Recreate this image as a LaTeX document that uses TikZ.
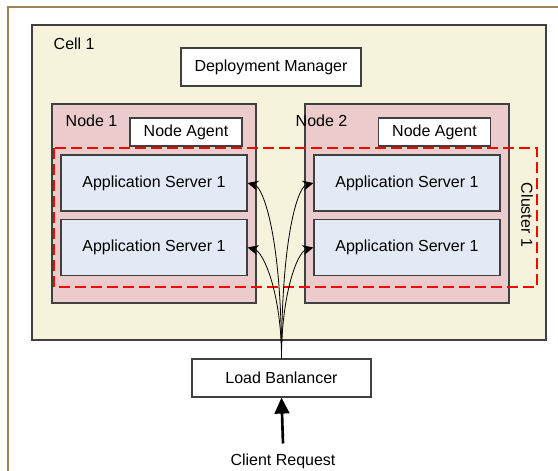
\documentclass[tikz,border=0pt]{standalone}
\usepackage{fontspec}
\setmainfont{Liberation Sans}
\usetikzlibrary{arrows.meta}
\definecolor{framebrown}{HTML}{A0825C}
\definecolor{cellfill}{HTML}{F5F3DC}
\definecolor{nodefill}{HTML}{EBCBCB}
\definecolor{appfill}{HTML}{E4EAF5}
\definecolor{edgegray}{HTML}{404040}

\begin{document}
\begin{tikzpicture}[x=0.75pt,y=-0.75pt,
    font=\fontsize{12}{14}\selectfont,
    box/.style={draw=edgegray,line width=0.9pt,rectangle,inner sep=0pt},
    appbox/.style={box,fill=appfill,minimum width=186*0.75pt,minimum height=56*0.75pt},
    agentbox/.style={box,fill=white,minimum width=112*0.75pt,minimum height=28*0.75pt},
    call/.style={-{Stealth[length=8pt,width=7.5pt]},line width=0.6pt}]
    \useasboundingbox (0,0) rectangle (558,471);
    % outer frame
    \draw[framebrown,line width=1.6pt] (8,480) -- (8,7) -- (570,7);
    % cell
    \node[box,fill=cellfill,minimum width=514*0.75pt,minimum height=315*0.75pt] (cell) at (289,182.5) {};
    \node[anchor=west] (celllabel) at (49,44) {Cell 1};
    \node[box,fill=white,minimum width=180*0.75pt,minimum height=38*0.75pt] (dm) at (271,67) {Deployment Manager};
    % nodes
    \node[box,fill=nodefill,minimum width=204*0.75pt,minimum height=199*0.75pt] (node1) at (154,203.5) {};
    \node[box,fill=nodefill,minimum width=204*0.75pt,minimum height=199*0.75pt] (node2) at (407,203.5) {};
    \node[anchor=west] (node1label) at (61,121) {Node 1};
    \node[anchor=west] (node2label) at (291,121) {Node 2};
    \node[agentbox] (agent1) at (186,132) {Node Agent};
    \node[agentbox] (agent2) at (434.5,132) {Node Agent};
    % cluster
    \draw[red,dashed,dash pattern=on 8pt off 4pt,line width=0.9pt] (54,148) rectangle (537,287);
    \node[rotate=-90] (clusterlabel) at (527,215) {Cluster 1};
    % application servers
    \node[appbox] (as11) at (154,183) {Application Server 1};
    \node[appbox] (as12) at (154,247.5) {Application Server 1};
    \node[appbox] (as21) at (407,183) {Application Server 1};
    \node[appbox] (as22) at (407,247.5) {Application Server 1};
    % load balancer
    \node[box,fill=white,minimum width=179*0.75pt,minimum height=38*0.75pt] (lb) at (281.5,378) {Load Banlancer};
    \node (client) at (283,461) {Client Request};
    \draw[-{Triangle[length=12pt,width=11pt]},line width=2pt] ([yshift=4pt]client.north) -- (lb.south);
    \draw[call] (lb.north) .. controls +(0,-120) and +(16,4) .. (as11.east);
    \draw[call] (lb.north) .. controls +(0,-65) and +(16,4) .. (as12.east);
    \draw[call] (lb.north) .. controls +(0,-120) and +(-16,4) .. (as21.west);
    \draw[call] (lb.north) .. controls +(0,-65) and +(-16,4) .. (as22.west);
\end{tikzpicture}
\end{document}
